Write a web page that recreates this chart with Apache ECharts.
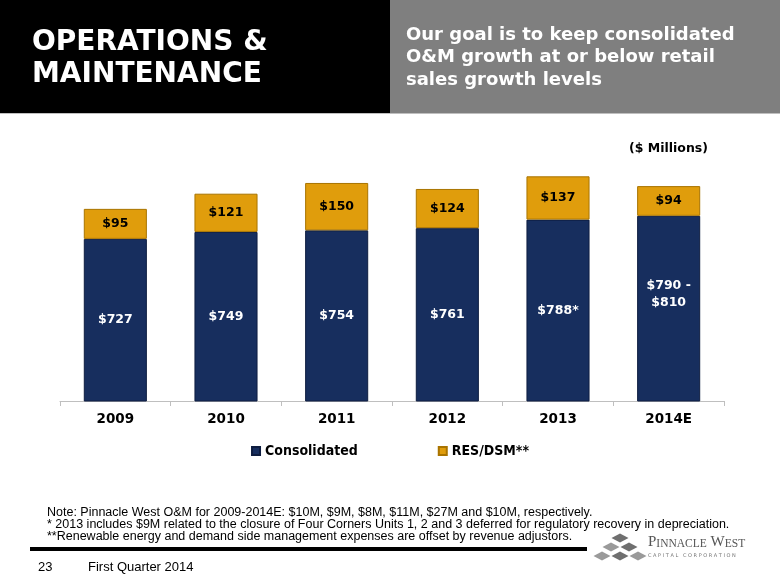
<!DOCTYPE html>
<html><head><meta charset="utf-8">
<script src="https://cdn.jsdelivr.net/npm/echarts@6/dist/echarts.min.js"></script>
<style>html,body{margin:0;padding:0;background:#fff}#c{width:780px;height:585px}</style>
</head><body><div id="c"></div>
<script>
const categories = ['2009','2010','2011','2012','2013','2014E'];
const consolidated = [727, 749, 754, 761, 788, 800];
const consolidatedLabels = ['$727','$749','$754','$761','$788*','$790 -\n$810'];
const resDsm = [95, 121, 150, 124, 137, 94];
const resDsmLabels = ['$95','$121','$150','$124','$137','$94'];
const notes = [
  'Note: Pinnacle West O&M for 2009-2014E: $10M, $9M, $8M, $11M, $27M and $10M, respectively.',
  '* 2013 includes $9M related to the closure of Four Corners Units 1, 2 and 3 deferred for regulatory recovery in depreciation.',
  '**Renewable energy and demand side management expenses are offset by revenue adjustors.'
];

const NAVY = '#172E5E', GOLD = '#E09D0C';
const chart = echarts.init(document.getElementById('c'), null, {renderer:'canvas'});

const diamonds = [];
const dpos = [[620,538],[611,547],[629,547],[602,556],[620,556],[638,556]];
dpos.forEach(function(p,i){
  diamonds.push({type:'polygon', shape:{points:[[p[0],p[1]-4.5],[p[0]+8.5,p[1]],[p[0],p[1]+4.5],[p[0]-8.5,p[1]]]},
    style:{fill: i%2 ? '#9a9a9a' : '#6f6f6f'}});
});

chart.setOption({
  animation:false,
  grid:{left:60, right:56, top:170, bottom:184},
  xAxis:{type:'category', data:categories,
    axisLine:{lineStyle:{color:'#BFBFBF', width:1}},
    axisTick:{show:true, length:5, lineStyle:{color:'#BFBFBF'}},
    axisLabel:{color:'#000', fontFamily:'DejaVu Sans', fontWeight:'bold', fontSize:13.5, margin:11}},
  yAxis:{type:'value', min:214, max:945, show:false, splitLine:{show:false}},
  legend:{top:439, left:'center', itemWidth:8, itemHeight:8, itemGap:80, icon:'rect',
    textStyle:{color:'#000', fontFamily:'DejaVu Sans Condensed', fontWeight:'bold', fontSize:14},
    data:['Consolidated','RES/DSM**']},
  series:[
    {name:'Consolidated', type:'bar', stack:'t', barWidth:'57%',
     data: consolidated.map(function(v,i){
       var d = {value:v};
       if (i===5) d.label = {offset:[0,-14], lineHeight:17};
       return d;
     }),
     itemStyle:{color:NAVY, borderColor:'#0E1D40', borderWidth:1},
     label:{show:true, position:'inside', color:'#fff', fontFamily:'DejaVu Sans', fontWeight:'bold', fontSize:12.5,
       formatter:function(p){return consolidatedLabels[p.dataIndex];}}},
    {name:'RES/DSM**', type:'bar', stack:'t', barWidth:'57%',
     data: resDsm,
     itemStyle:{color:GOLD, borderColor:'#A97400', borderWidth:1},
     label:{show:true, position:'inside', color:'#000', fontFamily:'DejaVu Sans', fontWeight:'bold', fontSize:12.5,
       formatter:function(p){return resDsmLabels[p.dataIndex];}}}
  ],
  graphic:[
    {type:'rect', shape:{x:0,y:0,width:390,height:113}, style:{fill:'#000'}},
    {type:'rect', shape:{x:390,y:0,width:390,height:113}, style:{fill:'#7F7F7F'}},
    {type:'rect', shape:{x:0,y:113,width:780,height:1}, style:{fill:'#BFBFBF'}},
    {type:'text', left:32, top:27, style:{text:'OPERATIONS &\nMAINTENANCE', fill:'#fff', font:'bold 28px "DejaVu Sans"', lineHeight:32}},
    {type:'text', left:406, top:24, style:{text:'Our goal is to keep consolidated\nO&M growth at or below retail\nsales growth levels', fill:'#fff', font:'bold 18px "DejaVu Sans"', lineHeight:22.5}},
    {type:'text', left:629, top:142, style:{text:'($ Millions)', fill:'#000', font:'bold 12.5px "DejaVu Sans"'}},
    {type:'text', left:47, top:506, style:{text:notes.join('\n'), fill:'#000', font:'12.5px "Liberation Sans"', lineHeight:12}},
    {type:'rect', shape:{x:30,y:547,width:557,height:4}, style:{fill:'#000'}},
    {type:'text', left:38, top:561, style:{text:'23', fill:'#000', font:'13px "Liberation Sans"'}},
    {type:'text', left:88, top:561, style:{text:'First Quarter 2014', fill:'#000', font:'13px "Liberation Sans"'}},
    {type:'text', left:648, top:535, style:{text:'{b|P}{s|INNACLE}{b| W}{s|EST}', fill:'#555',
      rich:{b:{fontFamily:'Liberation Serif', fontSize:15, fill:'#555', verticalAlign:'bottom'},
            s:{fontFamily:'Liberation Serif', fontSize:11.5, fill:'#555', verticalAlign:'bottom'}}}},
    {type:'text', left:648, top:553, style:{text:'C A P I T A L   C O R P O R A T I O N', fill:'#777', font:'5px "DejaVu Sans"'}}
  ].concat(diamonds)
});
</script></body></html>
